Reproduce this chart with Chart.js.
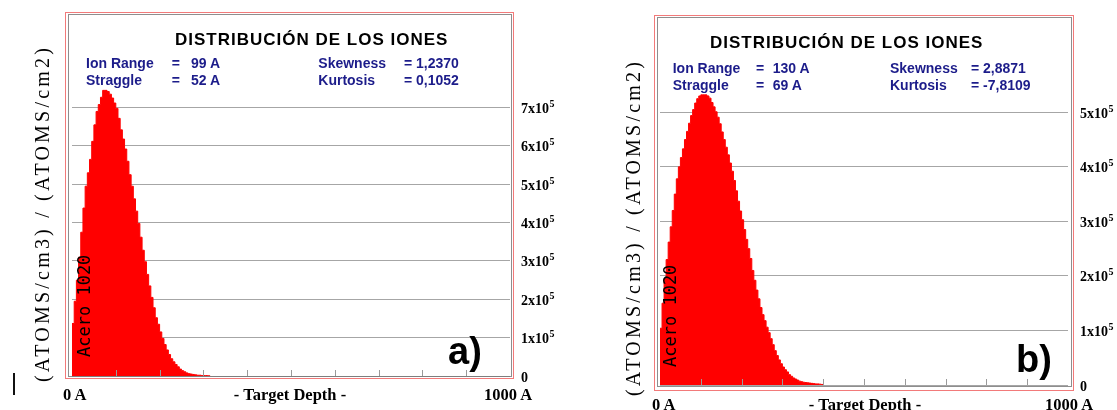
<!DOCTYPE html>
<html lang="es">
<head>
<meta charset="utf-8">
<title>Distribución de los iones</title>
<script src="https://cdn.jsdelivr.net/npm/chart.js@4.4.0/dist/chart.umd.min.js"></script>
<style>
    body { margin: 0; background: #fff; }
    #page { position: relative; width: 1117px; height: 410px; overflow: hidden; background: #fff; }
    canvas { position: absolute; top: 0; }
    .t { position: absolute; white-space: pre; line-height: 1; }
    .title { font: bold 17px "Liberation Sans", Arial, sans-serif; letter-spacing: 1px; color: #000; }
    .stat { font: bold 14px "Liberation Sans", Arial, sans-serif; color: #1c1c8a; }
    .xlab { font: bold 16.5px "Liberation Serif", "Times New Roman", serif; color: #000; }
    .tag { font: bold 38px "Liberation Sans", Arial, sans-serif; color: #000; }
    .rot { position: absolute; white-space: pre; transform-origin: 0 0; transform: rotate(-90deg); }
    .ytitle { font: 20px "Liberation Serif", serif; line-height: 20px; letter-spacing: 3.2px; color: #000; }
    .mat { font: 17px "DejaVu Sans Mono", monospace; line-height: 17px; color: #000; }
    .red { position: absolute; border: 1px solid #f27a7a; box-sizing: border-box; }
    .gray { position: absolute; border: 1.5px solid #8e8e8e; box-sizing: border-box; }
</style>
</head>
<body>
<div id="page">
    <!-- panel frames -->
    <div class="red" style="left:65px; top:12px; width:449px; height:367px;"></div>
    <div class="gray" style="left:68px; top:14px; width:444px; height:363px;"></div>
    <div class="red" style="left:654px; top:15px; width:420px; height:376px;"></div>
    <div class="gray" style="left:656.5px; top:17px; width:415.5px; height:370px;"></div>

    <canvas id="chartA" width="560" height="410" style="left:0;"></canvas>
    <canvas id="chartB" width="557" height="410" style="left:560px;"></canvas>

    <!-- panel a) texts -->
    <div class="t title" style="left:175px; top:29.6px;">DISTRIBUCIÓN DE LOS IONES</div>
    <div class="t stat" style="left:86px; top:54.9px;">Ion Range</div>
    <div class="t stat" style="left:86px; top:72.2px;">Straggle</div>
    <div class="t stat" style="left:171.7px; top:54.9px;">=</div>
    <div class="t stat" style="left:191px; top:54.9px;">99 A</div>
    <div class="t stat" style="left:171.7px; top:72.2px;">=</div>
    <div class="t stat" style="left:191px; top:72.2px;">52 A</div>
    <div class="t stat" style="left:318.3px; top:54.9px;">Skewness</div>
    <div class="t stat" style="left:318.3px; top:72.2px;">Kurtosis</div>
    <div class="t stat" style="left:404px; top:54.9px;">= 1,2370</div>
    <div class="t stat" style="left:404px; top:72.2px;">= 0,1052</div>
    <div class="rot ytitle" style="left:31.5px; top:382px;">(ATOMS/cm3) / (ATOMS/cm2)</div>
    <div class="rot mat" style="left:76.1px; top:357px;">Acero 1020</div>
    <div class="t tag" style="left:448px; top:329.8px;">a)</div>
    <div class="t xlab" style="left:63px; top:384.7px;">0 A</div>
    <div class="t xlab" style="left:190px; top:384.7px; width:200px; text-align:center;">- Target Depth -</div>
    <div class="t xlab" style="left:484px; top:384.7px;">1000 A</div>

    <!-- panel b) texts -->
    <div class="t title" style="left:710px; top:33.3px;">DISTRIBUCIÓN DE LOS IONES</div>
    <div class="t stat" style="left:672.7px; top:59.9px;">Ion Range</div>
    <div class="t stat" style="left:672.7px; top:76.7px;">Straggle</div>
    <div class="t stat" style="left:756px; top:59.9px;">=</div>
    <div class="t stat" style="left:772.7px; top:59.9px;">130 A</div>
    <div class="t stat" style="left:756px; top:76.7px;">=</div>
    <div class="t stat" style="left:772.7px; top:76.7px;">69 A</div>
    <div class="t stat" style="left:890px; top:59.9px;">Skewness</div>
    <div class="t stat" style="left:890px; top:76.7px;">Kurtosis</div>
    <div class="t stat" style="left:971px; top:59.9px;">= 2,8871</div>
    <div class="t stat" style="left:971px; top:76.7px;">= -7,8109</div>
    <div class="rot ytitle" style="left:622.8px; top:396px;">(ATOMS/cm3) / (ATOMS/cm2)</div>
    <div class="rot mat" style="left:661.6px; top:367px;">Acero 1020</div>
    <div class="t tag" style="left:1016px; top:337.8px;">b)</div>
    <div class="t xlab" style="left:652px; top:394.7px;">0 A</div>
    <div class="t xlab" style="left:765px; top:394.7px; width:200px; text-align:center;">- Target Depth -</div>
    <div class="t xlab" style="left:1045px; top:394.7px;">1000 A</div>

    <div style="position:absolute; left:12.5px; top:373px; width:2.3px; height:22px; background:#111;"></div>
</div>

<script>
// Depth bins (A), 5 A wide, left edge of each bin
const depthA = [
    0, 5, 10, 15, 20, 25, 30, 35, 40, 45, 50, 55, 60, 65, 70, 75, 80, 85, 90, 95,
    100, 105, 110, 115, 120, 125, 130, 135, 140, 145, 150, 155, 160, 165, 170, 175, 180, 185, 190, 195,
    200, 205, 210, 215, 220, 225, 230, 235, 240, 245, 250, 255, 260, 265, 270, 275, 280, 285, 290, 295,
    300, 305, 310, 315, 320, 325, 330, 335, 340, 345, 350, 355, 360, 365, 370, 375, 380, 385, 390, 395,
    400
];

// Concentration, units of 1x10^5 (ATOMS/cm3)/(ATOMS/cm2)
const ionsA = [
    1.37, 1.95, 2.50, 3.10, 3.75, 4.38, 4.95, 5.30, 5.65, 6.12, 6.55, 6.90, 7.08, 7.27, 7.45, 7.45, 7.42, 7.35, 7.25, 7.12,
    6.98, 6.72, 6.42, 6.18, 5.92, 5.60, 5.25, 4.95, 4.62, 4.30, 3.98, 3.62, 3.28, 2.98, 2.65, 2.35, 2.05, 1.78, 1.52, 1.35,
    1.15, 0.98, 0.82, 0.68, 0.56, 0.45, 0.37, 0.30, 0.24, 0.18, 0.14, 0.11, 0.08, 0.06, 0.05, 0.04, 0.03, 0.02, 0.02, 0.01,
    0.01, 0.01, 0.005, 0
];
const ionsB = [
    1.04, 1.50, 1.95, 2.30, 2.62, 2.90, 3.20, 3.50, 3.78, 4.00, 4.17, 4.33, 4.50, 4.65, 4.80, 4.94, 5.05, 5.17, 5.25, 5.30,
    5.32, 5.32, 5.32, 5.30, 5.26, 5.18, 5.10, 5.01, 4.91, 4.79, 4.64, 4.50, 4.36, 4.22, 4.07, 3.92, 3.75, 3.56, 3.37, 3.19,
    3.03, 2.85, 2.67, 2.50, 2.32, 2.10, 1.92, 1.74, 1.58, 1.42, 1.29, 1.18, 1.06, 0.96, 0.85, 0.74, 0.63, 0.54, 0.46, 0.39,
    0.33, 0.28, 0.24, 0.19, 0.16, 0.13, 0.11, 0.09, 0.07, 0.06, 0.05, 0.045, 0.04, 0.035, 0.03, 0.025, 0.02, 0.02, 0.015, 0.01,
    0
];

// small ticks along the bottom edge (A)
const depthTicks = [100, 200, 300, 400, 500, 600, 700, 800, 900];

// draws the inner depth ticks and the "Nx10^5" labels on the right
const panelDecor = {
    id: 'panelDecor',
    afterDatasetsDraw(chart) {
        const { ctx, chartArea, scales: { x } } = chart;
        ctx.save();
        ctx.strokeStyle = '#9a9a9a';
        ctx.lineWidth = 1;
        depthTicks.forEach(v => {
            const px = Math.round(x.getPixelForValue(v)) + 0.5;
            ctx.beginPath();
            ctx.moveTo(px, chartArea.bottom);
            ctx.lineTo(px, chartArea.bottom - 6);
            ctx.stroke();
        });
        ctx.restore();
    },
    afterDraw(chart, args, opts) {
        const { ctx, scales: { y } } = chart;
        ctx.save();
        ctx.fillStyle = '#000';
        ctx.textBaseline = 'alphabetic';
        y.ticks.forEach(t => {
            const py = y.getPixelForValue(t.value) + 5.5;
            ctx.font = 'bold 14px "Liberation Serif", serif';
            if (t.value === 0) {
                ctx.fillText('0', opts.labelX, py);
                return;
            }
            const base = t.value + 'x10';
            ctx.fillText(base, opts.labelX, py);
            const w = ctx.measureText(base).width;
            ctx.font = 'bold 10px "Liberation Serif", serif';
            ctx.fillText('5', opts.labelX + w + 0.5, py - 6);
        });
        ctx.restore();
    }
};

function makePanel(canvasId, values, yMax, padding, labelX) {
    const points = values.map((v, i) => ({ x: depthA[i], y: v }));
    return new Chart(document.getElementById(canvasId), {
        type: 'line',
        data: {
            datasets: [{
                data: points,
                stepped: 'before',
                fill: 'origin',
                backgroundColor: '#ff0000',
                borderColor: '#ff0000',
                borderWidth: 1,
                pointRadius: 0
            }]
        },
        options: {
            responsive: false,
            animation: false,
            devicePixelRatio: 1,
            layout: { padding },
            plugins: {
                legend: { display: false },
                tooltip: { enabled: false },
                panelDecor: { labelX }
            },
            scales: {
                x: {
                    type: 'linear',
                    min: 0,
                    max: 1000,
                    display: false
                },
                y: {
                    min: 0,
                    max: yMax,
                    z: 1,
                    ticks: { display: false, stepSize: 1, includeBounds: false },
                    grid: { color: 'rgba(118,118,118,0.65)', drawTicks: false },
                    border: { display: false },
                    afterFit: s => { s.width = 0; }
                }
            }
        },
        plugins: [panelDecor]
    });
}

document.addEventListener('DOMContentLoaded', () => {
    makePanel('chartA', ionsA, 7.59, { left: 72, right: 50, top: 85, bottom: 34 }, 521);
    makePanel('chartB', ionsB, 5.409, { left: 100, right: 49, top: 90, bottom: 25 }, 520);
});
</script>
</body>
</html>
